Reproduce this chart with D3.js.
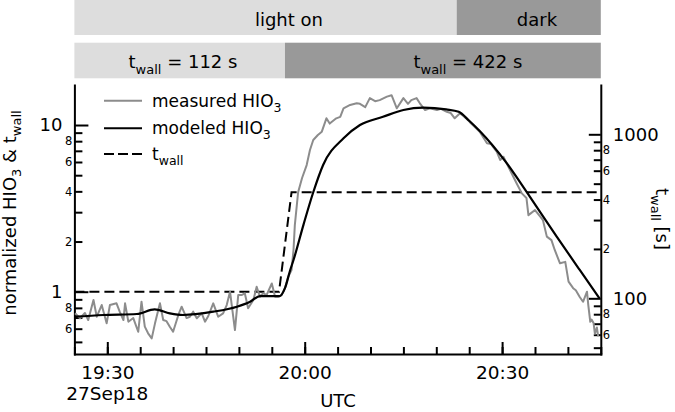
<!DOCTYPE html>
<html>
<head>
<meta charset="utf-8">
<script src="https://cdn.jsdelivr.net/npm/d3@7"></script>
<style>
  body { margin: 0; background: #fff; }
  svg { font-family: "DejaVu Sans", Verdana, sans-serif; }
  text { white-space: pre; }
</style>
</head>
<body>
<svg id="chart" width="675" height="412"></svg>
<script>
// time is minutes after 19:00 UTC, 27 Sep 2018
const measuredMin = [25.1, 25.85, 26.6, 27.1, 27.9, 28.4, 29.15, 29.9, 30.4, 31.4, 31.9, 32.45, 32.7, 33.2, 33.95,
  34.7, 35.2, 35.7, 36.2, 36.75, 37.25, 38.0, 38.5, 39.0, 39.5, 40.0, 40.8, 41.3, 42.05, 42.55, 43.05, 43.6,
  44.35, 44.85, 45.35, 46.1, 46.85, 47.6, 48.15, 48.65, 49.4, 49.9, 50.4, 50.9, 51.4, 52.2, 52.7, 53.2, 53.7,
  54.2, 55.0, 55.5, 56.0, 56.5, 57.0, 57.5, 58.0, 58.3, 58.5, 59.0, 59.6, 60.3, 60.8, 61.3, 62.0, 62.6, 63.3,
  63.8, 64.8, 65.4, 65.9, 66.9, 67.9, 68.4, 69.2, 69.9, 70.7, 71.4, 72.5, 73.2, 74.0, 75.0, 75.7, 76.2, 77.0,
  77.5, 78.3, 79.0, 80.1, 80.7, 81.6, 82.2, 82.8, 83.6, 84.5, 85.1, 85.9, 86.6, 87.7, 88.3, 89.2, 89.7, 90.2,
  91.2, 92.2, 93.0, 93.7, 94.0, 94.4, 95.0, 95.8, 96.2, 96.8, 97.5, 98.0, 98.8, 99.6, 100.1, 100.8, 101.2,
  101.8, 102.3, 102.9, 103.1, 103.4, 103.6, 103.9, 104.1, 104.4, 104.6];
const measuredHIO3 = [0.742, 0.693, 0.745, 0.676, 0.892, 0.708, 0.832, 0.646, 0.832, 0.852, 0.756, 0.676, 0.852, 0.661, 0.695,
  0.575, 0.871, 0.617, 0.563, 0.525, 0.646, 0.852, 0.676, 0.666, 0.617, 0.575, 0.725, 0.813, 0.695, 0.708, 0.759, 0.693,
  0.742, 0.661, 0.715, 0.852, 0.708, 0.742, 0.832, 1.0, 0.589, 0.955, 0.955, 0.978, 0.795, 0.892, 1.07, 0.933, 0.98,
  0.955, 1.12, 0.933, 0.933, 0.955, 1.05, 1.23, 1.35, 1.78, 2.51, 3.95, 4.81, 5.75, 7.08, 8.13, 8.71, 9.12, 10.97,
  10.2, 10.97, 11.2, 12.6, 13.2, 13.5, 13.4, 12.8, 14.5, 13.9, 14.1, 14.8, 15.1, 12.6, 14.5, 13.4, 14.1, 14.5,
  13.5, 12.3, 12.6, 12.3, 12.5, 12.0, 11.8, 10.97, 11.75, 11.0, 10.4, 9.7, 9.12, 7.77, 7.7, 6.9, 6.17, 6.45,
  5.37, 4.47, 3.89, 3.65, 2.88, 2.96, 3.09, 2.82, 2.69, 2.14, 2.04, 1.78, 1.48, 1.51, 1.15, 1.05, 1.02,
  0.93, 0.87, 1.0, 0.83, 0.66, 0.68, 0.65, 0.56, 0.61, 0.54];

const modeledMin = [25, 29.4, 34.5, 37.2, 39.5, 41.5, 46.1, 49.7, 51.7, 53.2, 56.2, 57.0, 57.8, 58.3, 59.8, 61.3,
  62.8, 65.9, 68.4, 71.9, 75.0, 78.0, 81.5, 83.4, 85.0, 86.6, 90.7, 93.7, 98.3, 101.8, 104.8];
const modeledHIO3 = [0.708, 0.725, 0.735, 0.784, 0.742, 0.725, 0.759, 0.813, 0.871, 0.942, 0.942, 1.05, 1.35, 1.55, 2.51, 3.95,
  5.76, 8.33, 10.0, 11.2, 12.3, 12.7, 12.4, 12.0, 10.6, 9.2, 5.9, 3.98, 2.14, 1.35, 0.913];

const twallMin = [25, 56.1, 58.0, 105];
const twallNorm = [1, 1, 3.95, 3.95];

const lightBounds = [25, 83.1, 105];
const lightLabels = ['light on', 'dark'];
const lightLabelMin = [57.6, 95.3];
const wallBounds = [25, 57.0, 105];
const wallSeconds = [112, 422];
const wallLabelMin = [41.5, 84.8];

const leftMinor = [0.5, 0.6, 0.7, 0.8, 0.9, 2, 3, 4, 5, 6, 7, 8, 9];
const leftMajor = [1, 10];
const rightMinor = [50, 60, 70, 80, 90, 200, 300, 400, 500, 600, 700, 800, 900];
const rightMajor = [100, 1000];

const T0 = Date.UTC(2018, 8, 27, 19, 0);
const toDate = m => new Date(T0 + m * 60000);

const plotLeft = 74.4, plotRight = 600.8, plotTop = 85, plotBottom = 354;
const svg = d3.select('#chart');

const x = d3.scaleUtc().domain([toDate(25), toDate(105)]).range([plotLeft, plotRight]);
const yL = d3.scaleLog().domain([0.423, 17.38]).range([plotBottom, plotTop]);
const yR = d3.scaleLog().domain([45.75, 1998]).range([plotBottom, plotTop]);

const bandColor = ['#dddddd', '#999999'];

// top bands
lightLabels.forEach((lab, i) => {
  svg.append('rect')
    .attr('x', x(toDate(lightBounds[i]))).attr('y', 0)
    .attr('width', x(toDate(lightBounds[i + 1])) - x(toDate(lightBounds[i])))
    .attr('height', 35)
    .attr('fill', bandColor[i]);
  svg.append('text')
    .attr('x', x(toDate(lightLabelMin[i]))).attr('y', 26)
    .attr('text-anchor', 'middle').attr('font-size', 18)
    .text(lab);
});
wallSeconds.forEach((s, i) => {
  svg.append('rect')
    .attr('x', x(toDate(wallBounds[i]))).attr('y', 42.7)
    .attr('width', x(toDate(wallBounds[i + 1])) - x(toDate(wallBounds[i])))
    .attr('height', 35.6)
    .attr('fill', bandColor[i]);
  let t = svg.append('text')
    .attr('x', x(toDate(wallLabelMin[i]))).attr('y', 67.5)
    .attr('text-anchor', 'middle').attr('font-size', 18);
  t.append('tspan').text('t');
  t.append('tspan').attr('dy', 6).attr('font-size', 13).text('wall');
  t.append('tspan').attr('dy', -6).text(` = ${s} s`);
});

// axes
function styleAxis(g, fs) {
  g.attr('font-family', null).attr('font-size', fs);
  g.selectAll('line').attr('stroke', '#000').attr('stroke-width', 2);
  g.selectAll('.domain').attr('stroke', '#000').attr('stroke-width', 2).attr('stroke-linecap', 'square');
  g.selectAll('text').attr('fill', '#000');
}
const smallLabel = v => {
  let d = Math.round(v / Math.pow(10, Math.floor(Math.log10(v) + 1e-9)));
  return [2, 4, 6, 8].includes(d) ? d : '';
};

svg.append('g').attr('transform', `translate(${plotLeft},0)`)
  .call(d3.axisLeft(yL).tickValues(leftMinor).tickSize(-8).tickSizeOuter(0).tickPadding(2).tickFormat(smallLabel))
  .call(g => styleAxis(g, 11.5));
svg.append('g').attr('transform', `translate(${plotLeft},0)`)
  .call(d3.axisLeft(yL).tickValues(leftMajor).tickSize(-14).tickSizeOuter(0).tickPadding(12).tickFormat(d3.format('d')))
  .call(g => { styleAxis(g, 18); g.select('.domain').remove(); });

svg.append('g').attr('transform', `translate(${plotRight},0)`)
  .call(d3.axisRight(yR).tickValues(rightMinor).tickSize(-7).tickSizeOuter(0).tickPadding(2).tickFormat(smallLabel))
  .call(g => styleAxis(g, 11.5));
svg.append('g').attr('transform', `translate(${plotRight},0)`)
  .call(d3.axisRight(yR).tickValues(rightMajor).tickSize(-12).tickSizeOuter(0).tickPadding(12).tickFormat(d3.format('d')))
  .call(g => { styleAxis(g, 18); g.select('.domain').remove(); });

svg.append('g').attr('transform', `translate(0,${plotBottom})`)
  .call(d3.axisBottom(x).ticks(d3.utcMinute.every(5)).tickSize(-7).tickSizeOuter(0).tickFormat(''))
  .call(g => styleAxis(g, 18));
svg.append('g').attr('transform', `translate(0,${plotBottom})`)
  .call(d3.axisBottom(x).ticks(d3.utcMinute.every(30)).tickSize(-12).tickSizeOuter(0).tickPadding(12)
    .tickFormat(d3.utcFormat('%H:%M')))
  .call(g => { styleAxis(g, 18.5); g.select('.domain').remove(); });

svg.append('text').attr('x', x(toDate(30))).attr('y', 400)
  .attr('text-anchor', 'middle').attr('font-size', 18.5).text('27Sep18');
svg.append('text').attr('x', 338).attr('y', 407)
  .attr('text-anchor', 'middle').attr('font-size', 18).text('UTC');

// axis titles
let yl = svg.append('text').attr('transform', 'translate(16,213) rotate(-90)')
  .attr('text-anchor', 'middle').attr('font-size', 18);
yl.append('tspan').text('normalized HIO');
yl.append('tspan').attr('dy', 5).attr('font-size', 13).text('3');
yl.append('tspan').attr('dy', -5).text(' & t');
yl.append('tspan').attr('dy', 5).attr('font-size', 13).text('wall');

let yr = svg.append('text').attr('transform', 'translate(656,219) rotate(90)')
  .attr('text-anchor', 'middle').attr('font-size', 18);
yr.append('tspan').text('t');
yr.append('tspan').attr('dy', 5).attr('font-size', 13).text('wall');
yr.append('tspan').attr('dy', -5).text(' [s]');

// series
const line = d3.line().x(d => x(toDate(d[0]))).y(d => yL(d[1]));
svg.append('path').datum(d3.zip(twallMin, twallNorm))
  .attr('d', line).attr('fill', 'none').attr('stroke', '#000')
  .attr('stroke-width', 2).attr('stroke-dasharray', '10,5');
svg.append('path').datum(d3.zip(measuredMin, measuredHIO3))
  .attr('d', line).attr('fill', 'none').attr('stroke', '#8c8c8c')
  .attr('stroke-width', 2).attr('stroke-linejoin', 'round');
svg.append('path').datum(d3.zip(modeledMin, modeledHIO3))
  .attr('d', line.curve(d3.curveMonotoneX)).attr('fill', 'none').attr('stroke', '#000')
  .attr('stroke-width', 2.2);

// legend
const legend = [
  {name: 'measured HIO', sub: '3', color: '#8c8c8c', dash: null, y: 100.7},
  {name: 'modeled HIO', sub: '3', color: '#000', dash: null, y: 128.3},
  {name: 't', sub: 'wall', color: '#000', dash: '10,4', y: 154}
];
legend.forEach(l => {
  svg.append('line').attr('x1', 104).attr('x2', 142).attr('y1', l.y).attr('y2', l.y)
    .attr('stroke', l.color).attr('stroke-width', 2).attr('stroke-dasharray', l.dash);
  let t = svg.append('text').attr('x', 152).attr('y', l.y + 6).attr('font-size', 17);
  t.append('tspan').text(l.name);
  t.append('tspan').attr('dy', 5).attr('font-size', 12.5).text(l.sub);
});
</script>
</body>
</html>
